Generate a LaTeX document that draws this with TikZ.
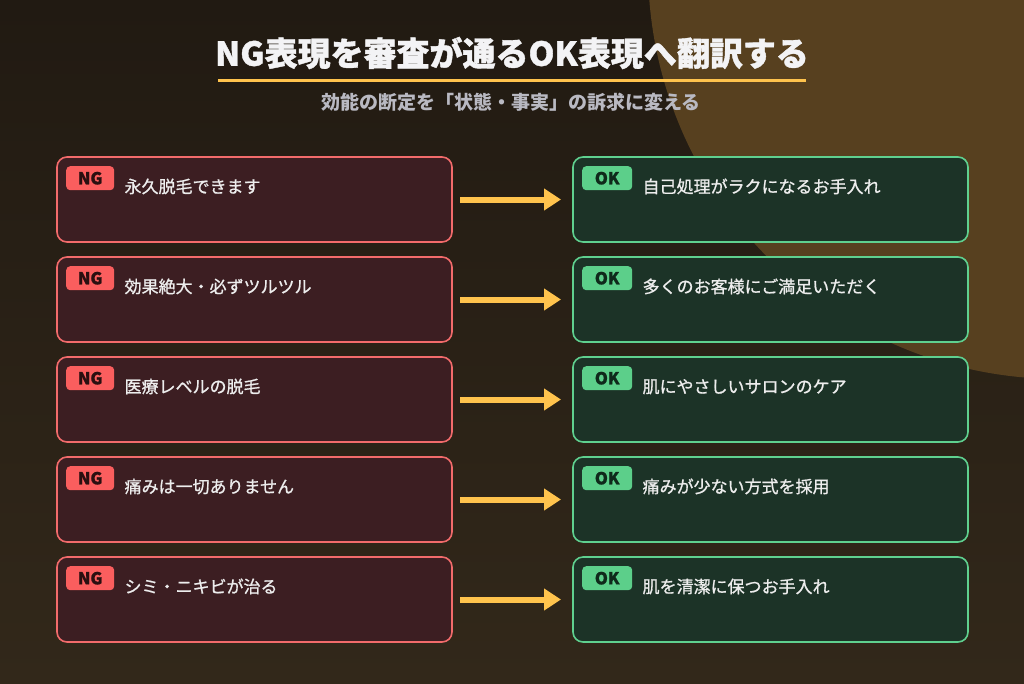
\documentclass[tikz,border=0pt]{standalone}
\usepackage{fontspec}
\setmainfont{Noto Sans CJK JP}
\newfontfamily\itemfont{Noto Sans CJK JP}[FakeBold=1]
\newfontfamily\titlefont{Noto Sans CJK JP}[FakeBold=1.2]
\usetikzlibrary{arrows.meta,positioning}
\definecolor{bgtop}{HTML}{211A12}
\definecolor{bgbot}{HTML}{32281A}
\definecolor{blob}{HTML}{57401F}
\definecolor{gold}{HTML}{FFC34D}
\definecolor{titlec}{HTML}{F3F3F5}
\definecolor{subc}{HTML}{B9B9C2}
\definecolor{ngfill}{HTML}{3C1E22}
\definecolor{ngline}{HTML}{F26B6B}
\definecolor{ngtag}{HTML}{FA5E5E}
\definecolor{ngtagtext}{HTML}{2A0F10}
\definecolor{okfill}{HTML}{1C3327}
\definecolor{okline}{HTML}{5FD08F}
\definecolor{oktag}{HTML}{5CCF8A}
\definecolor{oktagtext}{HTML}{0F2A1B}
\definecolor{itemc}{HTML}{EDEDED}

\begin{document}
\begin{tikzpicture}[x=1pt, y=-1pt, node distance=15pt and 121pt,
  itembox/.style={draw=#1, line width=1.6pt, rounded corners=10pt, minimum width=395pt,
    minimum height=85pt, inner sep=0pt, outer sep=0pt},
  ngbox/.style={itembox=ngline, fill=ngfill},
  okbox/.style={itembox=okline, fill=okfill},
  badge/.style={fill=#1, rounded corners=4pt, minimum width=48pt, minimum height=24pt,
    inner sep=0pt, font=\fontsize{16.5}{16.5}\selectfont\titlefont\bfseries},
  ngtagbox/.style={badge=ngtag, text=ngtagtext},
  oktagbox/.style={badge=oktag, text=oktagtext, minimum width=50pt},
  item/.style={anchor=base west, inner sep=0pt, text=itemc, font=\fontsize{17}{17}\selectfont\itemfont},
  flow/.style={draw=gold, line width=6pt, -{Triangle[length=17pt,width=21pt]},
    shorten <=8pt, shorten >=12pt}]
\useasboundingbox (0,0) rectangle (1024,683);
\clip (0,0) rectangle (1024,683);
\fill[top color=bgtop, bottom color=bgbot] (0,0) rectangle (1024,683);
\fill[blob] (1060,-33) circle[radius=412];
% heading
\node[text=titlec, font=\fontsize{33}{33}\selectfont\titlefont\bfseries] (title) at (512,53) {NG表現を審査が通るOK表現へ翻訳する};
\draw[gold, line width=3pt] (218,80) -- (806,80);
\node[text=subc, font=\fontsize{19}{19}\selectfont\bfseries] (sub) at (511,102) {効能の断定を「状態・事実」の訴求に変える};
% NG column
\node[ngbox, anchor=north west] (ng1) at (57,157) {};
\node[ngbox, below=of ng1] (ng2) {};
\node[ngbox, below=of ng2] (ng3) {};
\node[ngbox, below=of ng3] (ng4) {};
\node[ngbox, below=of ng4] (ng5) {};
% OK column
\node[okbox, right=of ng1] (ok1) {};
\node[okbox, below=of ok1] (ok2) {};
\node[okbox, below=of ok2] (ok3) {};
\node[okbox, below=of ok3] (ok4) {};
\node[okbox, below=of ok4] (ok5) {};
% badges
\node[ngtagbox, below right=9pt and 9pt of ng1.north west] (ngb1) {NG};
\node[ngtagbox, below right=9pt and 9pt of ng2.north west] (ngb2) {NG};
\node[ngtagbox, below right=9pt and 9pt of ng3.north west] (ngb3) {NG};
\node[ngtagbox, below right=9pt and 9pt of ng4.north west] (ngb4) {NG};
\node[ngtagbox, below right=9pt and 9pt of ng5.north west] (ngb5) {NG};
\node[oktagbox, below right=9pt and 9pt of ok1.north west] (okb1) {OK};
\node[oktagbox, below right=9pt and 9pt of ok2.north west] (okb2) {OK};
\node[oktagbox, below right=9pt and 9pt of ok3.north west] (okb3) {OK};
\node[oktagbox, below right=9pt and 9pt of ok4.north west] (okb4) {OK};
\node[oktagbox, below right=9pt and 9pt of ok5.north west] (okb5) {OK};
% texts
\node[item] (ngt1) at ([xshift=10pt,yshift=-2.5pt]ngb1.south east) {永久脱毛できます};
\node[item] (ngt2) at ([xshift=10pt,yshift=-2.5pt]ngb2.south east) {効果絶大・必ずツルツル};
\node[item] (ngt3) at ([xshift=10pt,yshift=-2.5pt]ngb3.south east) {医療レベルの脱毛};
\node[item] (ngt4) at ([xshift=10pt,yshift=-2.5pt]ngb4.south east) {痛みは一切ありません};
\node[item] (ngt5) at ([xshift=10pt,yshift=-2.5pt]ngb5.south east) {シミ・ニキビが治る};
\node[item] (okt1) at ([xshift=10pt,yshift=-2.5pt]okb1.south east) {自己処理がラクになるお手入れ};
\node[item] (okt2) at ([xshift=10pt,yshift=-2.5pt]okb2.south east) {多くのお客様にご満足いただく};
\node[item] (okt3) at ([xshift=10pt,yshift=-2.5pt]okb3.south east) {肌にやさしいサロンのケア};
\node[item] (okt4) at ([xshift=10pt,yshift=-2.5pt]okb4.south east) {痛みが少ない方式を採用};
\node[item] (okt5) at ([xshift=10pt,yshift=-2.5pt]okb5.south east) {肌を清潔に保つお手入れ};
% arrows
\draw[flow] (ng1) -- (ok1);
\draw[flow] (ng2) -- (ok2);
\draw[flow] (ng3) -- (ok3);
\draw[flow] (ng4) -- (ok4);
\draw[flow] (ng5) -- (ok5);
\end{tikzpicture}
\end{document}
